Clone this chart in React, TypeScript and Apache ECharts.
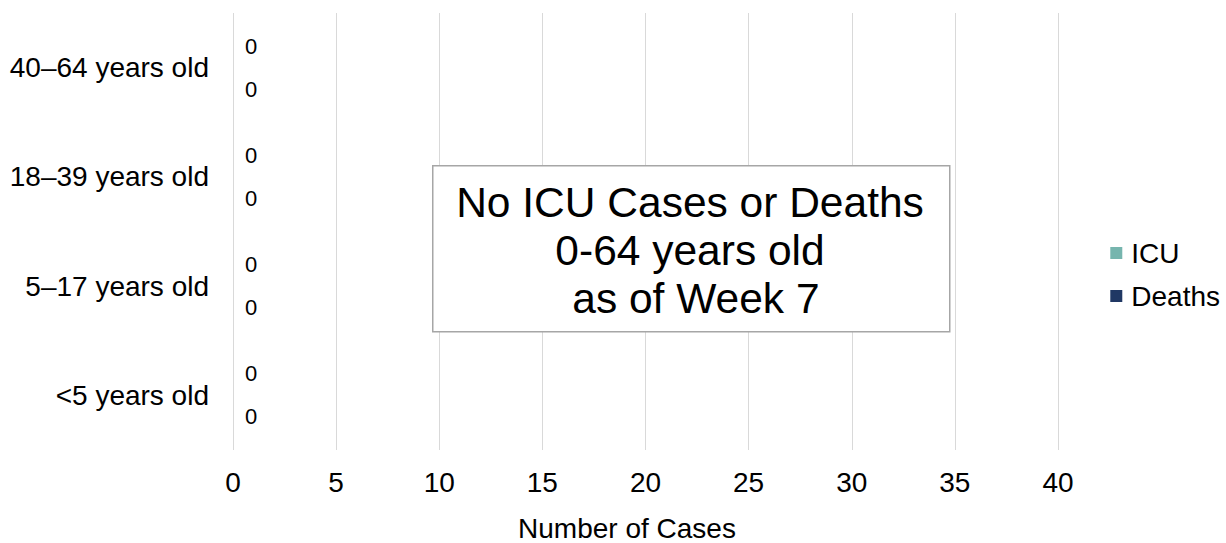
import React, { useEffect, useRef } from "react";
import * as echarts from "echarts";

const ageGroups = ["<5 years old", "5–17 years old", "18–39 years old", "40–64 years old"];
const icuCases = [0, 0, 0, 0];
const deaths = [0, 0, 0, 0];
const xTicks = { min: 0, max: 40, interval: 5 };
const noteLines = ["No ICU Cases or Deaths", "0-64 years old", " as of Week 7"];

const FONT = "'Liberation Sans', Arial, sans-serif";

export default function App() {
  const ref = useRef<HTMLDivElement>(null);

  useEffect(() => {
    document.body.style.margin = "0";
    const chart = echarts.init(ref.current!, null, { renderer: "svg" });
    const labelStyle = {
      show: true,
      position: "right" as const,
      distance: 12,
      color: "#000",
      fontSize: 22,
      fontFamily: FONT,
    };
    chart.setOption({
      animation: false,
      textStyle: { fontFamily: FONT },
      grid: { left: 233, right: 168, top: 13, bottom: 93, outerBoundsMode: "none", containLabel: false },
      legend: {
        orient: "vertical",
        right: 1,
        top: 234,
        itemWidth: 12,
        itemHeight: 12,
        itemGap: 15,
        icon: "rect",
        textStyle: { fontSize: 28, color: "#000", fontFamily: FONT, padding: [0, 0, 0, 4] },
        data: ["ICU", "Deaths"],
      },
      xAxis: {
        type: "value",
        min: xTicks.min,
        max: xTicks.max,
        interval: xTicks.interval,
        name: "Number of Cases",
        nameLocation: "middle",
        nameGap: 64,
        nameTextStyle: { fontSize: 28, color: "#000", fontFamily: FONT, padding: [0, 37, 0, 0] },
        axisLine: { show: false },
        axisTick: { show: false },
        axisLabel: { fontSize: 28, color: "#000", margin: 18, fontFamily: FONT },
        splitLine: { show: true, lineStyle: { color: "#d9d9d9", width: 1 } },
      },
      yAxis: {
        type: "category",
        data: ageGroups,
        axisLine: { show: false },
        axisTick: { show: false },
        axisLabel: { fontSize: 28, color: "#000", margin: 24, fontFamily: FONT },
        splitLine: { show: false },
      },
      series: [
        {
          name: "Deaths",
          type: "bar",
          data: deaths,
          barWidth: 30,
          barGap: "43%",
          itemStyle: { color: "#203864" },
          label: labelStyle,
        },
        {
          name: "ICU",
          type: "bar",
          data: icuCases,
          barWidth: 30,
          barGap: "43%",
          itemStyle: { color: "#76b5ae" },
          label: labelStyle,
        },
      ],
      graphic: [
        {
          type: "rect",
          left: 432,
          top: 165,
          shape: { width: 517, height: 166 },
          style: { fill: "#fff", stroke: "#a6a6a6", lineWidth: 1.5 },
          z: 10,
        },
        ...noteLines.map((line, i) => ({
          type: "text",
          x: 690,
          y: 202 + i * 48,
          z: 11,
          style: {
            text: line,
            fontSize: 42.5,
            fontFamily: FONT,
            fill: "#000",
            textAlign: "center",
            textVerticalAlign: "middle",
          },
        })),
      ],
    });
    return () => chart.dispose();
  }, []);

  return <div ref={ref} style={{ width: 1226, height: 543 }} />;
}
